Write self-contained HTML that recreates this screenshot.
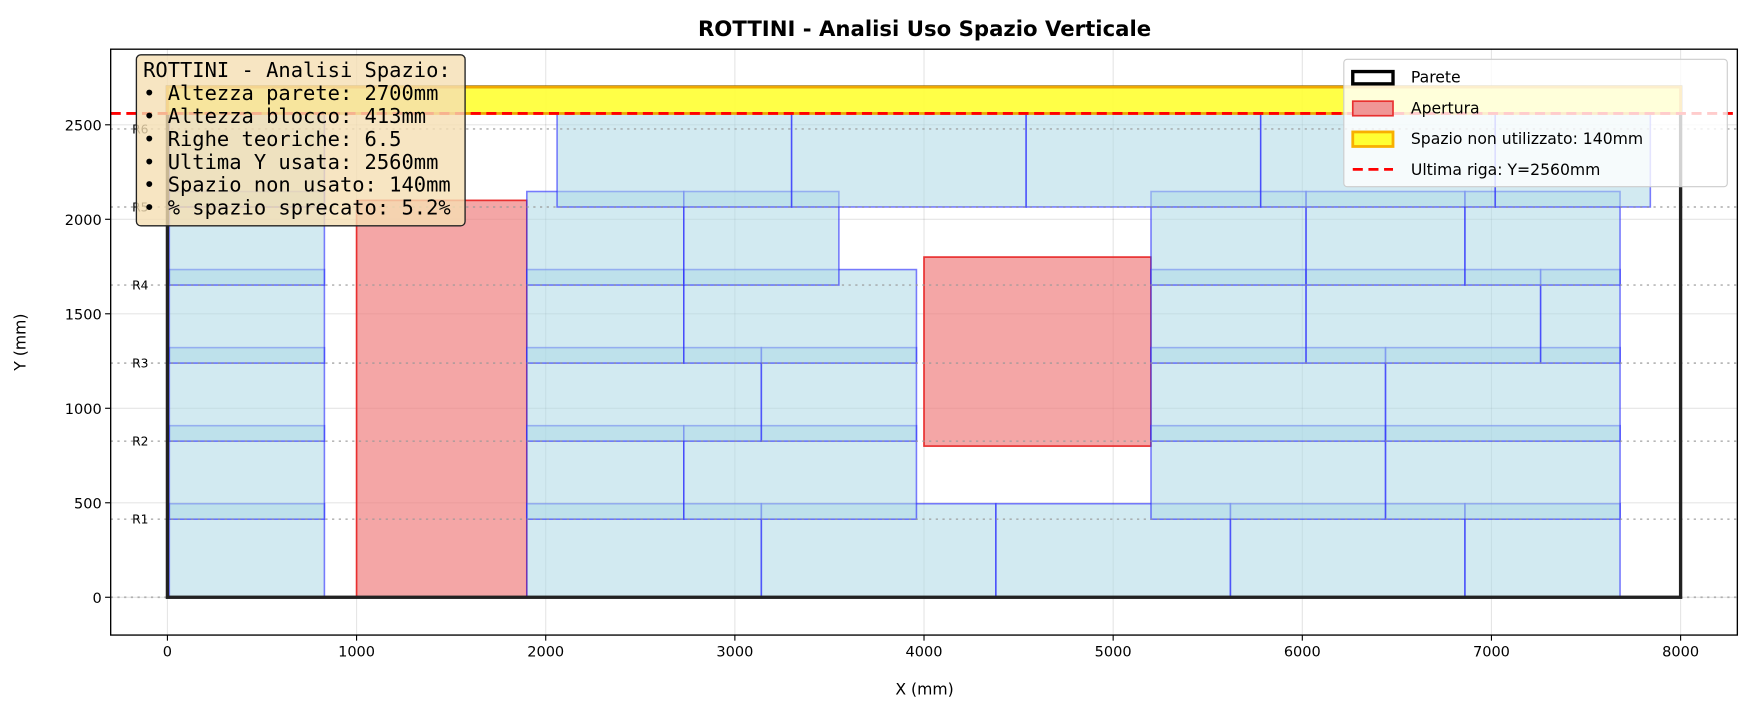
<!DOCTYPE html>
<html><head><meta charset="utf-8"><style>
body{margin:0;background:#fff;}
svg{display:block;}
svg text{font-family:"DejaVu Sans","Liberation Sans",sans-serif;}
</style></head><body>
<svg id="chart" width="1753" height="714" viewBox="0 0 1568 638.6" preserveAspectRatio="none" xmlns="http://www.w3.org/2000/svg"></svg>
<script>
const xTicks=[0,1000,2000,3000,4000,5000,6000,7000,8000];
const yTicks=[0,500,1000,1500,2000,2500];
const rowBases=[0,413,826,1239,1652,2065];
const rowLabels=["R1","R2","R3","R4","R5","R6"];
const rowLabelY=[413,826,1239,1652,2065,2478];
const blockHeight=495;
const blockRows=[
 [[10,830],[1900,3140],[3140,4380],[4380,5620],[5620,6860],[6860,7680]],
 [[10,830],[1900,2730],[2730,3960],[5200,6440],[6440,7680]],
 [[10,830],[1900,3140],[3140,3960],[5200,6440],[6440,7680]],
 [[10,830],[1900,2730],[2730,3960],[5200,6020],[6020,7260],[7260,7680]],
 [[10,830],[1900,2730],[2730,3550],[5200,6020],[6020,6860],[6860,7680]],
 [[10,830],[2060,3300],[3300,4540],[4540,5780],[5780,7020],[7020,7840]]
];
const openings=[[1000,0,1900,2100],[4000,800,5200,1800]];
const wallW=8000, wallH=2700, lastY=2560;
const infoLines=["ROTTINI - Analisi Spazio:","• Altezza parete: 2700mm","• Altezza blocco: 413mm","• Righe teoriche: 6.5","• Ultima Y usata: 2560mm","• Spazio non usato: 140mm","• % spazio sprecato: 5.2%"];

const L=99,R=1554,T=44,B=568,xmin=-300,xmax=8300,ymin=-200,ymax=2900;
const X=v=>L+(v-xmin)/(xmax-xmin)*(R-L);
const Y=v=>B-(v-ymin)/(ymax-ymin)*(B-T);
const svg=document.getElementById('chart');
const NS="http://www.w3.org/2000/svg";
function mk(tag,attrs,parent){const e=document.createElementNS(NS,tag);for(const k in attrs)e.setAttribute(k,attrs[k]);(parent||svg).appendChild(e);return e;}

mk('text',{x:827,y:32,'text-anchor':'middle','font-size':'19','font-weight':'bold'}).textContent="ROTTINI - Analisi Uso Spazio Verticale";



xTicks.forEach(v=>{const l=mk('line',{x1:X(v),x2:X(v),y1:T,y2:B,stroke:'#000','stroke-opacity':0.1,'stroke-width':1});

});
yTicks.forEach(v=>{const l=mk('line',{x1:L,x2:R,y1:Y(v),y2:Y(v),stroke:'#000','stroke-opacity':0.1,'stroke-width':1});

});

openings.forEach(o=>{const r=mk('rect',{x:X(o[0]),y:Y(o[3]),width:X(o[2])-X(o[0]),height:Y(o[1])-Y(o[3]),fill:'rgb(240,128,128)','fill-opacity':0.7,stroke:'#e83030','stroke-width':1.5});

});

blockRows.forEach((row,i)=>row.forEach(b=>{const y0=rowBases[i];
const r=mk('rect',{x:X(b[0]),y:Y(y0+blockHeight),width:X(b[1])-X(b[0]),height:Y(y0)-Y(y0+blockHeight),fill:'rgb(173,216,230)','fill-opacity':0.55,stroke:'rgb(40,40,255)','stroke-opacity':0.6,'stroke-width':1.4});

}));

rowLabelY.forEach((v,i)=>{const l=mk('line',{x1:L,x2:R,y1:Y(v),y2:Y(v),stroke:'#999','stroke-opacity':0.7,'stroke-width':1.5,'stroke-dasharray':'2,4'});


const t=mk('text',{x:X(-100),y:Y(v)+4,'text-anchor':'end','font-size':'11'});t.textContent=rowLabels[i];

});
mk('line',{x1:L,x2:R,y1:Y(0),y2:Y(0),stroke:'#999','stroke-opacity':0.7,'stroke-width':1.5,'stroke-dasharray':'2,4'});

const w=mk('rect',{x:X(0),y:Y(wallH),width:X(wallW)-X(0),height:Y(0)-Y(wallH),fill:'none',stroke:'#222','stroke-width':3});



const band=mk('rect',{x:X(0),y:Y(wallH),width:X(wallW)-X(0),height:Y(lastY)-Y(wallH),fill:'#ffff33','fill-opacity':0.9,stroke:'#f0a800','stroke-width':2.5});


const dl=mk('line',{x1:L,x2:R,y1:Y(lastY),y2:Y(lastY),stroke:'#ff0000','stroke-width':2.5,'stroke-dasharray':'9,5'});



const fr=mk('rect',{x:L,y:T,width:R-L,height:B-T,fill:'none',stroke:'#000','stroke-width':1.2});


xTicks.forEach(v=>{mk('line',{x1:X(v),x2:X(v),y1:B,y2:B+5,stroke:'#000'});
const t=mk('text',{x:X(v),y:B+19,'text-anchor':'middle','font-size':'13'});t.textContent=v;

});
yTicks.forEach(v=>{mk('line',{x1:L-5,x2:L,y1:Y(v),y2:Y(v),stroke:'#000'});
const t=mk('text',{x:L-8,y:Y(v)+5,'text-anchor':'end','font-size':'13'});t.textContent=v;

});
const xl=mk('text',{x:827,y:621,'text-anchor':'middle','font-size':'14'});xl.textContent="X (mm)";


const yl=mk('text',{x:23,y:306,'text-anchor':'middle','font-size':'14',transform:'rotate(-90 23 306)'});yl.textContent="Y (mm)";



const ib=mk('rect',{x:122,y:49,width:294,height:153,rx:4,fill:'rgb(245,222,179)','fill-opacity':0.8,stroke:'#222','stroke-width':1.2});


infoLines.forEach((s,i)=>{const t=mk('text',{x:128,y:69+i*20.5,'font-size':'18.3','xml:space':'preserve',style:'font-family:"DejaVu Sans Mono","Liberation Mono",monospace'});t.textContent=s;

});

const lg=mk('rect',{x:1202,y:53,width:343,height:114,rx:3,fill:'#fff','fill-opacity':0.8,stroke:'#ccc'});


const legendLabels=["Parete","Apertura","Spazio non utilizzato: 140mm","Ultima riga: Y=2560mm"];
legendLabels.forEach((s,i)=>{const cy=69+i*27.5;
if(i==0)mk('rect',{x:1210,y:cy-5,width:36,height:11,fill:'#fff',stroke:'#000','stroke-width':3});
if(i==1)mk('rect',{x:1210,y:cy-6,width:36,height:13,fill:'rgb(240,150,150)',stroke:'#e83030','stroke-width':1.5});
if(i==2)mk('rect',{x:1210,y:cy-6,width:36,height:13,fill:'#ffff33',stroke:'#f8b000','stroke-width':2.5});
if(i==3)mk('line',{x1:1210,x2:1246,y1:cy,y2:cy,stroke:'#f00','stroke-width':2.5,'stroke-dasharray':'9,5'});
const t=mk('text',{x:1262,y:cy+5,'font-size':'14'});t.textContent=s;

});
</script>
</body></html>
